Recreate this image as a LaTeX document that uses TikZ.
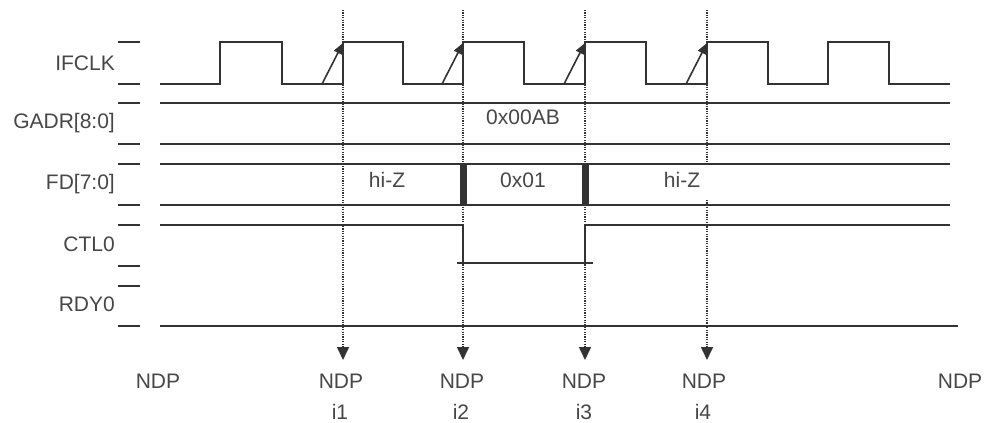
\documentclass[tikz,border=0pt]{standalone}
\usepackage{fontspec}
\setmainfont{Liberation Sans}
\usetikzlibrary{arrows.meta}
\definecolor{ink}{HTML}{333333}
\definecolor{txt}{HTML}{474747}
\begin{document}
\begin{tikzpicture}[x=1pt,y=-1pt,
  sig/.style={draw=ink,line width=1.3pt},
  clk/.style={draw=ink,line width=1.9pt,line join=miter},
  tickmark/.style={draw=ink,line width=1.9pt},
  guide/.style={draw=ink,line width=1.6pt,dash pattern=on 1.1pt off 1.3pt},
  lbl/.style={text=txt,font=\fontsize{21}{24}\selectfont,inner sep=0pt}]
\useasboundingbox[fill=white] (0,0) rectangle (986,423);

% tick marks
\foreach \y in {42,84,103,144,164,205,225,266,286,326}
  \draw[tickmark] (118,\y) -- (140,\y);

% signal names
\node[lbl,anchor=east] (nclk)  at (115,63)  {IFCLK};
\node[lbl,anchor=east] (ngadr) at (115,123) {GADR[8:0]};
\node[lbl,anchor=east] (nfd)   at (115,184) {FD[7:0]};
\node[lbl,anchor=east] (nctl)  at (115,244) {CTL0};
\node[lbl,anchor=east] (nrdy)  at (115,304) {RDY0};

% guide lines
\foreach \x/\n in {343/1,463/2,585/3}{
  \coordinate (gt\n) at (\x,10);
  \coordinate (gb\n) at (\x,360);
  \draw[guide,-{Triangle[width=12pt,length=13pt]}] (gt\n) -- (gb\n);
}
\coordinate (gt4) at (707,10);
\coordinate (gm4a) at (707,163);
\coordinate (gm4b) at (707,200);
\coordinate (gb4) at (707,360);
\draw[guide] (gt4) -- (gm4a);
\draw[guide,-{Triangle[width=12pt,length=13pt]}] (gm4b) -- (gb4);

% IFCLK
\draw[clk] (160,84) -- (220,84) -- (220,42) -- (282,42) -- (282,84) -- (343,84) -- (343,42)
  -- (403,42) -- (403,84) -- (463,84) -- (463,42) -- (524,42) -- (524,84) -- (585,84)
  -- (585,42) -- (646,42) -- (646,84) -- (707,84) -- (707,42) -- (768,42) -- (768,84)
  -- (828,84) -- (828,42) -- (889,42) -- (889,84) -- (950,84);
\foreach \x in {343,463,585,707}
  \draw[sig,line width=1.6pt,-{Triangle[length=11pt,width=9pt]}] (\x-21,84) -- (\x,43);

% GADR
\draw[sig] (160,103) -- (950,103);
\draw[sig] (160,144) -- (950,144);
\node[lbl] (vgadr) at (523,117) {0x00AB};

% FD
\draw[sig] (160,164) -- (950,164);
\draw[sig] (160,205) -- (950,205);
\fill[ink] (460,164) rectangle (467,205);
\fill[ink] (582,164) rectangle (589,205);
\node[lbl] (vfd1) at (387,180) {hi-Z};
\node[lbl] (vfd2) at (523,180) {0x01};
\node[lbl] (vfd3) at (682,180) {hi-Z};

% CTL0
\draw[sig,line width=1.5pt] (160,225) -- (463,225);
\draw[sig,line width=2pt] (463,225) -- (463,263);
\draw[sig] (457,263) -- (593,263);
\draw[sig,line width=2pt] (585,263) -- (585,225);
\draw[sig,line width=1.9pt] (585,225) -- (950,225);

% RDY0
\draw[sig] (160,326) -- (958,326);

% bottom labels
\node[lbl] (ndp0) at (158,381) {NDP};
\node[lbl] (ndp1) at (341,381) {NDP};
\node[lbl] (ndp2) at (462,381) {NDP};
\node[lbl] (ndp3) at (584,381) {NDP};
\node[lbl] (ndp4) at (704,381) {NDP};
\node[lbl] (ndp5) at (960,381) {NDP};
\node[lbl] (i1) at (340,412) {i1};
\node[lbl] (i2) at (461,412) {i2};
\node[lbl] (i3) at (584,412) {i3};
\node[lbl] (i4) at (703,412) {i4};
\end{tikzpicture}
\end{document}
